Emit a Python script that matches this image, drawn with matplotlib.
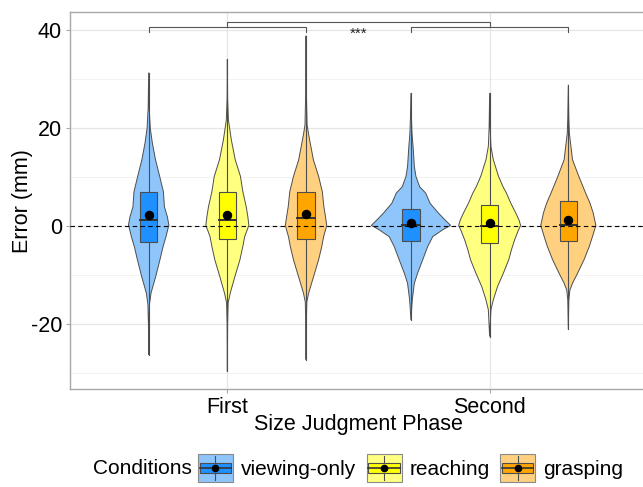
import matplotlib
matplotlib.use("Agg")
import matplotlib.pyplot as plt
from matplotlib.patches import Rectangle, Polygon
from matplotlib.lines import Line2D
from matplotlib.legend_handler import HandlerBase
import numpy as np

plt.rcParams["font.family"] = ["Liberation Sans", "DejaVu Sans"]

# ---- data -------------------------------------------------------------
phases = ["First", "Second"]
conditions = ["viewing-only", "reaching", "grasping"]
box_colors = ["#1E90FF", "#FFFF00", "#FFA500"]
violin_colors = ["#8EC5FB", "#FFFF80", "#FFD07F"]

# box statistics, one row per condition, columns = [First, Second]
box_q1 = [[-3.3, -3.0], [-2.7, -3.4], [-2.6, -3.1]]
box_median = [[1.1, 0.1], [1.2, 0.0], [1.7, 0.1]]
box_q3 = [[7.0, 3.4], [7.0, 4.2], [7.0, 5.0]]
box_mean = [[2.2, 0.55], [2.3, 0.6], [2.45, 1.1]]

# violin outlines: error levels (mm) and half-widths (x-axis units)
viewing_first_y = [31.3, 24, 20, 16.9, 13.5, 10.1, 7.0, 3.9, 1.9, 0.2, -2.2, -4.2, -6.9, -10.3, -13.7, -16, -20, -26.3]
viewing_first_w = [0, .002, .006, .014, .026, .042, .056, .060, .071, .077, .066, .055, .043, .027, .009, .003, .001, 0]
reaching_first_y = [34.0, 26, 21.6, 17.6, 13.5, 10.1, 7.0, 3.9, 1.9, 0.1, -2.2, -4.2, -6.9, -10.3, -13.7, -15.7, -20, -29.7]
reaching_first_w = [0, .001, .004, .015, .030, .050, .059, .072, .078, .082, .066, .059, .048, .029, .011, .003, .001, 0]
grasping_first_y = [38.8, 28, 20.6, 18.6, 13.5, 10.1, 7.0, 3.9, 1.9, 0.1, -2.2, -4.2, -6.9, -10.3, -13.7, -15.5, -20, -27.3]
grasping_first_w = [0, .001, .004, .010, .028, .048, .062, .068, .074, .079, .067, .060, .048, .029, .010, .003, .001, 0]

viewing_second_y = [27.1, 22, 18.9, 16.2, 12.1, 10.1, 8.0, 6.7, 4.6, 2.6, 1.2, 0.1, -0.8, -2.2, -4.2, -6.9, -9.7, -11.7, -15.1, -19.2]
viewing_second_w = [0, .002, .004, .008, .013, .019, .033, .056, .073, .105, .130, .151, .121, .083, .064, .045, .025, .013, .005, 0]
reaching_second_y = [27.1, 20, 16.2, 13.5, 10.1, 8.0, 6.7, 4.6, 2.6, 1.2, 0.1, -1.1, -2.9, -4.9, -6.9, -9.7, -12.4, -15.1, -17.1, -22.6]
reaching_second_w = [0, .002, .005, .014, .034, .051, .064, .081, .100, .112, .118, .108, .095, .083, .073, .052, .030, .014, .005, 0]
grasping_second_y = [28.8, 22, 18.9, 16.2, 13.5, 10.1, 6.7, 4.6, 2.6, 0.1, -2.2, -4.2, -6.9, -9.7, -11.7, -13.1, -15.1, -21.1]
grasping_second_w = [0, .002, .004, .010, .016, .040, .066, .083, .095, .105, .092, .080, .060, .035, .016, .006, .002, 0]

violin_y = [[viewing_first_y, viewing_second_y],
            [reaching_first_y, reaching_second_y],
            [grasping_first_y, grasping_second_y]]
violin_w = [[viewing_first_w, viewing_second_w],
            [reaching_first_w, reaching_second_w],
            [grasping_first_w, grasping_second_w]]

y_ticks = [-20, 0, 20, 40]
significance = "***"

# ---- figure -----------------------------------------------------------
W, H = 643, 487
fig = plt.figure(figsize=(W / 100, H / 100), dpi=100)
ax = fig.add_axes([70 / W, (H - 389) / H, 577 / W, (389 - 12.3) / H])

edge = "#4D4D4D"
dodge = 0.3
box_half = 0.033

ax.set_xlim(0.4, 2.6)
ax.set_ylim(-33.3, 43.6)

# grid
for v in [-30, -10, 10, 30]:
    ax.axhline(v, color="#F0F0F0", lw=0.6, zorder=0)
for v in y_ticks:
    ax.axhline(v, color="#E6E6E6", lw=0.9, zorder=0)
for v in [1, 2]:
    ax.axvline(v, color="#E6E6E6", lw=0.9, zorder=0)

for ci in range(len(conditions)):
    for pi in range(len(phases)):
        xc = pi + 1 + (ci - 1) * dodge
        ys = np.array(violin_y[ci][pi])
        ws = np.array(violin_w[ci][pi])
        pts = np.concatenate([np.column_stack([xc - ws, ys]),
                              np.column_stack([xc + ws, ys])[::-1]])
        ax.add_patch(Polygon(pts, closed=True, facecolor=violin_colors[ci],
                             edgecolor=edge, lw=0.7, zorder=2))
        ax.plot([xc, xc], [ys.min(), ys.max()], color=edge, lw=0.8, zorder=3)
        q1, q3 = box_q1[ci][pi], box_q3[ci][pi]
        ax.add_patch(Rectangle((xc - box_half, q1), 2 * box_half, q3 - q1,
                               facecolor=box_colors[ci], edgecolor=edge,
                               lw=0.8, zorder=4))
        ax.plot([xc - box_half, xc + box_half], [box_median[ci][pi]] * 2,
                color="#333333", lw=1.4, zorder=5)
        ax.plot([xc], [box_mean[ci][pi]], "o", color="black", ms=5.8, zorder=6)

# reference line at zero error
ax.axhline(0, color="black", lw=0.8, ls=(0, (4, 3)), zorder=7)

# significance brackets
bc = "#555555"
for left, right in [(1 - dodge, 1 + dodge), (2 - dodge, 2 + dodge)]:
    ax.plot([left, left, right, right], [39.6, 40.6, 40.6, 39.6],
            color=bc, lw=0.8, zorder=8, clip_on=False)
ax.plot([1, 1, 2, 2], [40.7, 41.6, 41.6, 40.7], color=bc, lw=0.8, zorder=8,
        clip_on=False)
ax.text(1.5, 39.2, significance, ha="center", va="center", fontsize=11,
        color="#222222")

# axes styling
for s in ax.spines.values():
    s.set_color("#A8A8A8")
    s.set_linewidth(1.0)
ax.set_yticks(y_ticks)
ax.set_yticklabels([str(v) for v in y_ticks])
ax.set_xticks([1, 2])
ax.set_xticklabels(phases)
ax.tick_params(axis="both", length=2.8, width=0.8, color="#A8A8A8",
               labelsize=15.5, labelcolor="black", pad=3)
ax.set_ylabel("Error (mm)", fontsize=15.5, va="center")
ax.yaxis.set_label_coords(-0.083, 0.5)
ax.set_xlabel("Size Judgment Phase", fontsize=15.5, va="center")
ax.xaxis.set_label_coords(0.5, -0.093)


# legend keys: violin colour behind a miniature boxplot
class BoxKey(HandlerBase):
    def __init__(self, light, dark):
        super().__init__()
        self.light = light
        self.dark = dark

    def create_artists(self, legend, orig_handle, xdescent, ydescent,
                       width, height, fontsize, trans):
        x0, y0 = -xdescent, -ydescent
        cx = x0 + width / 2
        arts = [
            Rectangle((x0, y0), width, height, facecolor=self.light,
                      edgecolor="#8A8A8A", lw=0.8, transform=trans),
            Line2D([cx, cx], [y0 + 0.08 * height, y0 + 0.92 * height],
                   color=edge, lw=0.8, transform=trans),
            Rectangle((x0 + 0.05 * width, y0 + 0.32 * height), 0.9 * width,
                      0.36 * height, facecolor=self.dark, edgecolor=edge,
                      lw=0.8, transform=trans),
            Line2D([x0 + 0.05 * width, x0 + 0.95 * width],
                   [y0 + 0.5 * height] * 2, color="#333333", lw=1.2,
                   transform=trans),
            Line2D([cx], [y0 + 0.5 * height], marker="o", ms=4.5,
                   color="black", transform=trans),
        ]
        return arts


legend_fs = 15.0
handles = [Rectangle((0, 0), 1, 1) for _ in conditions]
hmap = {h: BoxKey(violin_colors[i], box_colors[i]) for i, h in enumerate(handles)}
fig.legend(handles, conditions, handler_map=hmap, loc="center left",
           bbox_to_anchor=(198 / W, 1 - 468 / H), ncol=3, frameon=False,
           fontsize=legend_fs, borderpad=0, borderaxespad=0,
           handlelength=1.68, handleheight=1.72, handletextpad=0.38,
           columnspacing=0.5)
fig.text(93 / W, 1 - 468 / H, "Conditions", ha="left", va="center",
         fontsize=legend_fs)

fig.savefig("out.png", dpi=100)
